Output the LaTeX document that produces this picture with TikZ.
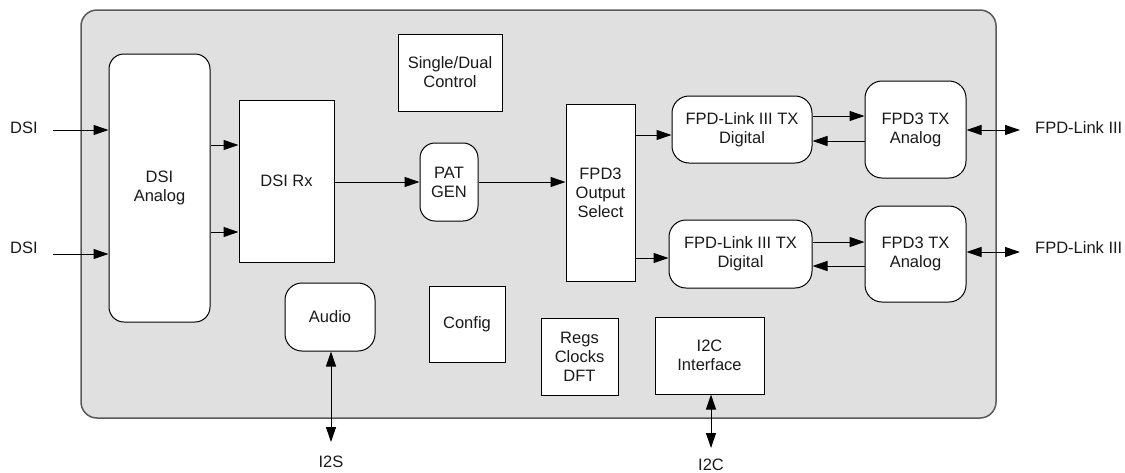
\documentclass[tikz,border=0pt]{standalone}
\usepackage{fontspec}
\setmainfont{Liberation Sans}
\usetikzlibrary{arrows.meta}
\definecolor{bg}{HTML}{E0E0E0}
\definecolor{txt}{HTML}{1A1A1A}
\tikzset{
  blk/.style={draw=black, line width=1pt, fill=white, inner sep=0pt, align=center, text=txt,
     font=\fontsize{16.5}{19}\selectfont},
  rblk/.style={blk, rounded corners=15pt},
  lbl/.style={inner sep=0pt, text=txt, font=\fontsize{16.5}{19}\selectfont},
  arr/.style={line width=1pt, -{Triangle[length=15pt,width=10pt]}},
  arrb/.style={line width=1pt, {Triangle[length=15pt,width=10pt]}-{Triangle[length=15pt,width=10pt]}},
}
\begin{document}
\begin{tikzpicture}[x=1pt,y=-1pt]
\useasboundingbox (0,0) rectangle (1125,472);
% outer chip
\node[draw={rgb,255:red,90;green,90;blue,90}, line width=1.5pt, fill=bg, rounded corners=16pt,
      minimum width=915pt, minimum height=408pt, inner sep=0pt] (chip) at (538.5,214) {};
% blocks
\node[rblk, minimum width=101pt, minimum height=268pt] (dsia) at (159.5,188) {DSI\\Analog};
\node[blk, minimum width=95pt, minimum height=162pt] (dsirx) at (286.5,181) {DSI Rx};
\node[blk, minimum width=104pt, minimum height=77pt] (sdc) at (450,72.5) {Single/Dual\\Control};
\node[rblk, minimum width=58pt, minimum height=78pt] (pat) at (449,182) {PAT\\GEN};
\node[blk, minimum width=69pt, minimum height=177pt] (os) at (600.5,192.5) {FPD3\\Output\\Select};
\node[rblk, rounded corners=17pt, minimum width=140pt, minimum height=67pt] (txd1) at (742,129.5) {FPD-Link III TX\\Digital};
\node[rblk, rounded corners=17pt, minimum width=143pt, minimum height=68pt] (txd2) at (740.5,254) {FPD-Link III TX\\Digital};
\node[rblk, rounded corners=17pt, minimum width=101pt, minimum height=97pt] (txa1) at (915.5,129.5) {FPD3 TX\\Analog};
\node[rblk, rounded corners=17pt, minimum width=101pt, minimum height=96pt] (txa2) at (915.5,254) {FPD3 TX\\Analog};
\node[rblk, rounded corners=17pt, minimum width=90pt, minimum height=68pt] (audio) at (330,317) {Audio};
\node[blk, minimum width=76pt, minimum height=76pt] (config) at (467,324) {Config};
\node[blk, minimum width=77pt, minimum height=77pt] (regs) at (579.5,356.5) {Regs\\Clocks\\DFT};
\node[blk, minimum width=109pt, minimum height=77pt] (i2c) at (709.5,355.5) {I2C\\Interface};
% outside labels
\node[lbl, anchor=west] (dsi1) at (10,128) {DSI};
\node[lbl, anchor=west] (dsi2) at (10,248) {DSI};
\node[lbl, anchor=west] (fpd1) at (1035,128) {FPD-Link III};
\node[lbl, anchor=west] (fpd2) at (1035,248) {FPD-Link III};
\node[lbl] (i2s) at (331,462) {I2S};
\node[lbl] (i2cl) at (711,465) {I2C};
% connectors
\coordinate (s1) at (53,130);
\coordinate (s2) at (53,254);
\draw[arr] (s1) -- (dsia.west |- s1);
\draw[arr] (s2) -- (dsia.west |- s2);
\draw[arr] (dsia.east |- 0,145) -- (dsirx.west |- 0,145);
\draw[arr] (dsia.east |- 0,232) -- (dsirx.west |- 0,232);
\draw[arr] (dsirx.east |- pat) -- (pat.west);
\draw[arr] (pat.east) -- (os.west |- pat);
\draw[arr] (os.east |- 0,135) -- (txd1.west |- 0,135);
\draw[arr] (os.east |- 0,258) -- (txd2.west |- 0,258);
\draw[arr] (txd1.east |- 0,116) -- (txa1.west |- 0,116);
\draw[arr] (txa1.west |- 0,141) -- (txd1.east |- 0,141);
\draw[arr] (txd2.east |- 0,242) -- (txa2.west |- 0,242);
\draw[arr] (txa2.west |- 0,266) -- (txd2.east |- 0,266);
\coordinate (e1) at (1020,130);
\coordinate (e2) at (1020,252);
\draw[arrb] (txa1.east |- e1) -- (e1);
\draw[arrb] (txa2.east |- e2) -- (e2);
\coordinate (i2send) at (331,442);
\coordinate (i2cend) at (711,448);
\draw[arrb] (audio.south -| i2send) -- (i2send);
\draw[arrb] (i2c.south -| i2cend) -- (i2cend);
\end{tikzpicture}
\end{document}
